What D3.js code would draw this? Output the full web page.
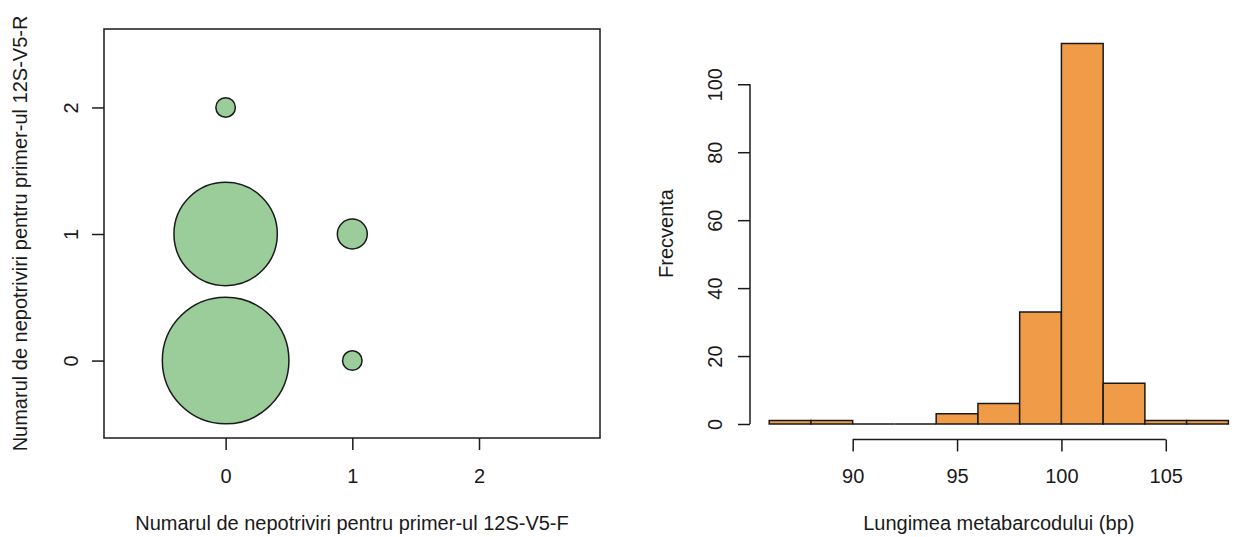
<!DOCTYPE html>
<html><head><meta charset="utf-8">
<script src="https://cdn.jsdelivr.net/npm/d3@7"></script>
<style>body{margin:0;background:#fff}svg{display:block}text{font-family:"Liberation Sans",Arial,Helvetica,sans-serif;fill:#1a1a1a}</style>
</head><body>
<svg id="c" width="1240" height="537"></svg>
<script>
// ---- Left panel: mismatch bubble chart ----
const mmF = [0, 0, 1, 0, 1];          // mismatches primer 12S-V5-F
const mmR = [0, 1, 1, 2, 0];          // mismatches primer 12S-V5-R
const mmCount = [42, 28, 2.35, 1, 1];    // number of sequences (circle area)
const bubbleTicks = [0, 1, 2];
const leftXLabel = "Numarul de nepotriviri pentru primer-ul 12S-V5-F";
const leftYLabel = "Numarul de nepotriviri pentru primer-ul 12S-V5-R";

// ---- Right panel: histogram of metabarcode length ----
const binStart = [86, 88, 90, 92, 94, 96, 98, 100, 102, 104, 106];
const binWidth = 2;
const binFreq = [1, 1, 0, 0, 3, 6, 33, 112, 12, 1, 1];
const histXTicks = [90, 95, 100, 105];
const histYTicks = [0, 20, 40, 60, 80, 100];
const rightXLabel = "Lungimea metabarcodului (bp)";
const rightYLabel = "Frecventa";

const svg = d3.select("#c");
const ink = "#1a1a1a";
const fs = 20;

function styleAxis(a) {
  a.selectAll("line,path").attr("stroke", ink).attr("stroke-width", 1.5);
  a.selectAll("text").attr("font-size", fs).attr("fill", ink).attr("font-family", null);
}
function xTickText(a, baseline) {
  a.selectAll(".tick text").attr("y", baseline).attr("dy", null);
}
function yTickText(a, off) {
  a.selectAll(".tick text").attr("transform", "rotate(-90)").attr("x", 0).attr("y", -off)
    .attr("dy", "0.35em").attr("text-anchor", "middle");
}

// Left panel
const lx = d3.scaleLinear().domain([-0.96, 2.955]).range([104, 600]);
const ly = d3.scaleLinear().domain([-0.612, 2.62]).range([438, 29]);
const lr = d3.scaleSqrt().domain([0, 42]).range([0, 63.3]);
const L = svg.append("g");
const bubbles = mmF.map((f, i) => ({f, r: mmR[i], n: mmCount[i]})).sort((a, b) => b.n - a.n);
L.selectAll("circle").data(bubbles).join("circle")
  .attr("cx", d => lx(d.f)).attr("cy", d => ly(d.r)).attr("r", d => lr(d.n))
  .attr("fill", "#9ACD9A").attr("stroke", ink).attr("stroke-width", 1.5);
L.append("rect").attr("x", lx.range()[0]).attr("y", ly.range()[1])
  .attr("width", lx.range()[1] - lx.range()[0]).attr("height", ly.range()[0] - ly.range()[1])
  .attr("fill", "none").attr("stroke", ink).attr("stroke-width", 1.5);
const lxa = L.append("g").attr("transform", `translate(0,${ly.range()[0]})`)
  .call(d3.axisBottom(lx).tickValues(bubbleTicks).tickSize(12).tickFormat(d3.format("d")));
const lya = L.append("g").attr("transform", `translate(${lx.range()[0]},0)`)
  .call(d3.axisLeft(ly).tickValues(bubbleTicks).tickSize(12).tickFormat(d3.format("d")));
[lxa, lya].forEach(a => { a.select(".domain").remove(); styleAxis(a); });
xTickText(lxa, 45);
yTickText(lya, 33);
L.append("text").attr("x", (lx.range()[0] + lx.range()[1]) / 2).attr("y", 530).attr("text-anchor", "middle").attr("font-size", fs).text(leftXLabel);
L.append("text").attr("transform", `translate(27,${(ly.range()[0] + ly.range()[1]) / 2}) rotate(-90)`).attr("text-anchor", "middle").attr("font-size", fs).text(leftYLabel);

// Right panel
const hx = d3.scaleLinear().domain([86, 108]).range([769.2, 1228.4]);
const hy = d3.scaleLinear().domain([0, 112]).range([424, 43.5]);
const R = svg.append("g");
R.selectAll("path.bar").data(binStart.map((s, i) => ({s, n: binFreq[i]}))).join("path").attr("class", "bar")
  .attr("d", d => {
    const x0 = hx(d.s), x1 = hx(d.s + binWidth), y0 = hy(0), y1 = hy(d.n);
    return `M${x0},${y0}V${y1}H${x1}V${y0}Z`;
  })
  .attr("fill", "#EF9B48").attr("stroke", ink).attr("stroke-width", 1.5);
const hxa = R.append("g").attr("transform", "translate(0,439.5)")
  .call(d3.axisBottom(hx).tickValues(histXTicks).tickSize(12).tickSizeOuter(0));
const hya = R.append("g").attr("transform", "translate(750,0)")
  .call(d3.axisLeft(hy).tickValues(histYTicks).tickSize(12).tickSizeOuter(0));
hxa.select(".domain").attr("d", `M${hx(histXTicks[0])},0H${hx(histXTicks[histXTicks.length - 1])}`);
hya.select(".domain").attr("d", `M0,${hy(histYTicks[0])}V${hy(histYTicks[histYTicks.length - 1])}`);
[hxa, hya].forEach(styleAxis);
xTickText(hxa, 43.5);
yTickText(hya, 35);
R.append("text").attr("x", (hx.range()[0] + hx.range()[1]) / 2).attr("y", 530).attr("text-anchor", "middle").attr("font-size", fs).text(rightXLabel);
R.append("text").attr("transform", `translate(673,${(ly.range()[0] + ly.range()[1]) / 2}) rotate(-90)`).attr("text-anchor", "middle").attr("font-size", fs).text(rightYLabel);
</script>
</body></html>
